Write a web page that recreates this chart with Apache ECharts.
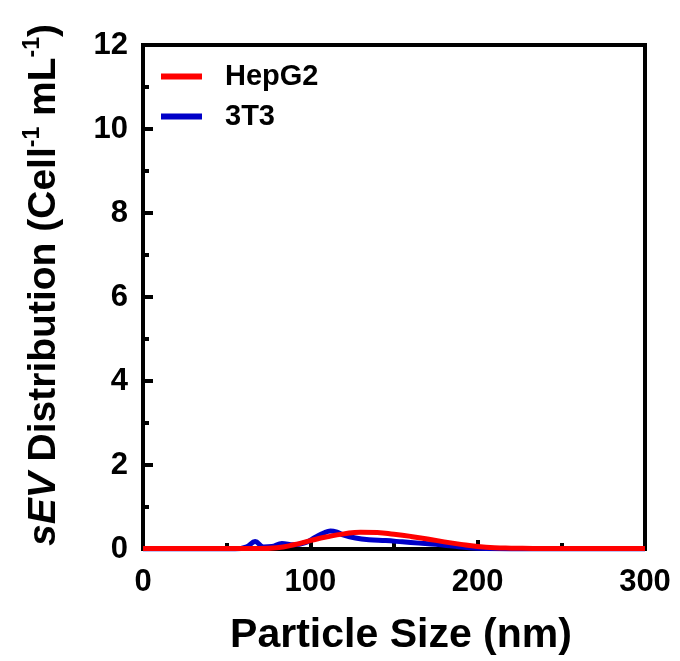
<!DOCTYPE html>
<html>
<head>
<meta charset="utf-8">
<script src="https://cdn.jsdelivr.net/npm/echarts@6/dist/echarts.min.js"></script>
<style>
  html, body { margin: 0; padding: 0; background: #fff; }
  #chart { width: 680px; height: 661px; }
</style>
</head>
<body>
<div id="chart"></div>
<script>
// HepG2 size distribution (nm, Cell^-1 mL^-1)
const hepSize = [0, 20, 40, 60, 70, 80, 90, 100, 110, 120, 130, 140, 150, 160, 170, 180, 190, 200, 210, 220, 240, 260, 280, 300];
const hepVal = [0.01, 0.01, 0.01, 0.01, 0.01, 0.03, 0.1, 0.2, 0.29, 0.36, 0.4, 0.39, 0.35, 0.3, 0.24, 0.17, 0.11, 0.06, 0.03, 0.02, 0.01, 0.01, 0.01, 0.01];
// 3T3 size distribution
const t3Size = [0, 20, 40, 55, 62, 67, 72, 77, 83, 90, 97, 103, 108, 112, 116, 120, 127, 135, 145, 155, 165, 175, 185, 195, 205, 220, 250, 300];
const t3Val = [0, 0, 0, 0, 0.05, 0.18, 0.05, 0.06, 0.13, 0.1, 0.15, 0.28, 0.38, 0.43, 0.4, 0.33, 0.26, 0.22, 0.2, 0.17, 0.14, 0.11, 0.07, 0.03, 0.01, 0, 0, 0];

const pair = (xs, ys) => xs.map((x, i) => [x, ys[i]]);

const chart = echarts.init(document.getElementById('chart'));

const font = 'Liberation Sans, Arial, sans-serif';

const option = {
  animation: false,
  grid: {
    left: 143, right: 35, top: 45, bottom: 112,
    show: true, borderColor: '#000', borderWidth: 4
  },
  legend: {
    orient: 'vertical',
    left: 156, top: 57,
    itemWidth: 41, itemHeight: 6,
    itemGap: 11,
    icon: 'rect',
    textStyle: { fontFamily: font, fontSize: 29, fontWeight: 'bold', color: '#000', padding: [0, 0, 0, 18] },
    data: ['HepG2', '3T3']
  },
  xAxis: {
    type: 'value', min: 0, max: 300, interval: 100,
    name: 'Particle Size (nm)',
    nameLocation: 'middle', nameGap: 66,
    nameTextStyle: { fontFamily: font, fontSize: 41, fontWeight: 'bold', color: '#000', padding: [0, 0, 0, 14] },
    axisLine: { show: true, lineStyle: { color: '#000', width: 4 } },
    axisTick: { show: true, inside: true, length: 9, lineStyle: { color: '#000', width: 4 } },
    minorTick: { show: true, splitNumber: 2, length: 6, lineStyle: { color: '#000', width: 4 } },
    axisLabel: { fontFamily: font, fontSize: 31, fontWeight: 'bold', color: '#000', margin: 18 },
    splitLine: { show: false }
  },
  yAxis: {
    type: 'value', min: 0, max: 12, interval: 2,
    name: '{it|sEV}{b| Distribution (Cell}{sup|-1}{b| mL}{sup|-1}{b|)}',
    nameLocation: 'middle', nameGap: 76, nameRotate: 90,
    nameTextStyle: {
      padding: [0, 0, 0, 24],
      rich: {
        it: { fontFamily: font, fontSize: 39, fontWeight: 'bold', fontStyle: 'italic', color: '#000', lineHeight: 46 },
        b: { fontFamily: font, fontSize: 39, fontWeight: 'bold', color: '#000', lineHeight: 46 },
        sup: { fontFamily: font, fontSize: 23, fontWeight: 'bold', color: '#000', verticalAlign: 'top', lineHeight: 46 }
      }
    },
    axisLine: { show: true, lineStyle: { color: '#000', width: 4 } },
    axisTick: { show: true, inside: true, length: 10, lineStyle: { color: '#000', width: 4 } },
    minorTick: { show: true, splitNumber: 2, length: 6, lineStyle: { color: '#000', width: 4 } },
    axisLabel: { fontFamily: font, fontSize: 31, fontWeight: 'bold', color: '#000', margin: 15 },
    splitLine: { show: false }
  },
  series: [
    {
      name: '3T3', type: 'line', data: pair(t3Size, t3Val),
      smooth: 0.4, showSymbol: false, z: 2,
      color: '#0000c8',
      lineStyle: { color: '#0000c8', width: 5 }
    },
    {
      name: 'HepG2', type: 'line', data: pair(hepSize, hepVal),
      smooth: 0.5, showSymbol: false, z: 3,
      color: '#ff0000',
      lineStyle: { color: '#ff0000', width: 5 }
    }
  ]
};

chart.setOption(option);
</script>
</body>
</html>
